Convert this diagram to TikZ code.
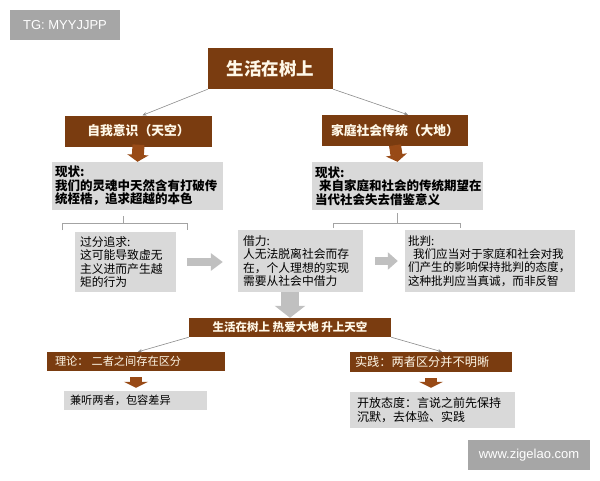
\documentclass[tikz,border=0pt]{standalone}
\usepackage{fontspec}
\setmainfont{Noto Sans CJK SC}
\newfontfamily\latinsans{Liberation Sans}
\usetikzlibrary{arrows.meta}
\definecolor{treebrown}{RGB}{122,60,16}
\definecolor{tipbrown}{RGB}{152,74,22}
\definecolor{boxgray}{RGB}{217,217,217}
\definecolor{arrowgray}{RGB}{192,192,192}
\definecolor{linegray}{RGB}{140,140,140}
\definecolor{markgray}{RGB}{166,166,166}
\definecolor{cream}{RGB}{255,248,232}
\tikzset{
 brownbox/.style={fill=treebrown, text=cream, inner sep=0pt},
 graybox/.style={fill=boxgray, text=black, inner ysep=0pt, align=left},
 tree/.style={draw=linegray, line width=0.6pt, -{Stealth[length=4pt,width=3.5pt]}},
 brownstep/.style={draw=tipbrown, line width=12pt, -{Triangle[length=7pt,width=21pt]}},
 grayflow/.style={draw=arrowgray, line width=8pt, -{Triangle[length=12pt,width=17pt]}},
 bracket/.style={draw=linegray!80, line width=0.6pt},
 watermark/.style={fill=markgray, text=white, font=\latinsans\fontsize{13}{13}\selectfont,
   minimum width=110pt, minimum height=30pt, inner sep=0pt}
}
\begin{document}
\begin{tikzpicture}[x=1pt,y=-1pt]
\useasboundingbox[fill=white] (0,0) rectangle (600,480);
\node[watermark] (tg) at (65,25) {TG: MYYJJPP};
\node[watermark, minimum width=122pt] (site) at (529,455) {www.zigelao.com};

\node[brownbox, minimum width=125pt, minimum height=41pt,
  font=\bfseries\fontsize{17.5}{17.5}\selectfont] (title) at (270.5,68.5) {生活在树上};
\node[brownbox, minimum width=147pt, minimum height=31pt,
  font=\bfseries\fontsize{12.8}{12.8}\selectfont] (sky) at (138.5,131) {自我意识（天空）};
\node[brownbox, minimum width=146pt, minimum height=31pt,
  font=\bfseries\fontsize{12.8}{12.8}\selectfont] (earth) at (395,130.5) {家庭社会传统（大地）};
\draw[tree] (title.south west) -- ([xshift=4pt]sky.north);
\draw[tree] (title.south east) -- ([xshift=13pt]earth.north);

\node[graybox, minimum height=48pt, text width=165pt, inner xsep=3pt,
  font=\bfseries\fontsize{12.5}{13.5}\selectfont] (skynow) at (137.5,186)
  {现状:\\我们的灵魂中天然含有打破传\\统桎梏，追求超越的本色};
\node[graybox, minimum height=48pt, text width=165pt, inner xsep=3pt,
  font=\bfseries\fontsize{12.5}{13.5}\selectfont] (earthnow) at (397.5,186)
  {现状:\\\hspace*{4pt}来自家庭和社会的传统期望在\\当代社会失去借鉴意义};
\draw[brownstep] ([yshift=2pt]sky.south) -- (skynow.north);
\draw[brownstep] ([yshift=1pt]earth.south) -- (earthnow.north);

\draw[bracket] (62,230) -- (62,223) -- (187,223) -- (187,230);
\draw[bracket] (123,216) -- (123,223);
\draw[bracket] (333,228) -- (333,223) -- (460,223) -- (460,228);
\draw[bracket] (397,213) -- (397,223);

\node[graybox, minimum height=60pt, text width=91pt, inner xsep=5pt,
  font=\fontsize{11.8}{13.2}\selectfont] (excess) at (125.5,262)
  {过分追求:\\这可能导致虚无\\主义进而产生越\\矩的行为};
\node[graybox, minimum height=62pt, text width=115pt, inner xsep=5pt,
  font=\fontsize{11.8}{13.2}\selectfont] (borrow) at (300.5,261)
  {借力:\\人无法脱离社会而存\\在，个人理想的实现\\需要从社会中借力};
\node[graybox, minimum height=62pt, text width=164pt, inner xsep=3pt,
  font=\fontsize{11.6}{13.2}\selectfont] (critique) at (490,261)
  {批判:\\\hspace*{5pt}我们应当对于家庭和社会对我\\们产生的影响保持批判的态度，\\这种批判应当真诚，而非反智};
\draw[grayflow, shorten <=11pt, shorten >=15pt] (excess.east) -- (excess.east -| borrow.west);
\draw[grayflow, -{Triangle[length=10pt,width=17pt]}, shorten <=12pt, shorten >=7pt]
  (borrow.east) -- (borrow.east -| critique.west);

\node[brownbox, minimum width=202pt, minimum height=19pt,
  font=\bfseries\fontsize{11.5}{11.5}\selectfont] (unify) at (290,327.5)
  {生活在树上 热爱大地 升上天空};
\draw[draw=arrowgray, line width=18pt, -{Triangle[length=12pt,width=30pt]}]
  (borrow.south -| unify.north) -- (unify.north);

\node[brownbox, minimum height=19pt, text width=170pt, inner xsep=4pt, align=left,
  font=\fontsize{11.2}{11.2}\selectfont] (theory) at (136,361.5) {\hspace*{4pt}理论：\hspace{3pt}二者之间存在区分};
\node[brownbox, minimum height=20pt, text width=152pt, inner xsep=5pt, align=left,
  font=\fontsize{12.2}{12.2}\selectfont] (practice) at (431,362) {实践：两者区分并不明晰};
\draw[tree] (unify.south west) -- ([xshift=2pt]theory.north);
\draw[tree] (unify.south east) -- ([xshift=11pt]practice.north);

\node[graybox, minimum height=19pt, text width=131pt, inner xsep=6pt,
  font=\fontsize{11.2}{11.2}\selectfont] (theoryres) at (135.5,400.5) {兼听两者，包容差异};
\node[graybox, minimum height=36pt, text width=151pt, inner xsep=7pt,
  font=\fontsize{12}{13.5}\selectfont] (practiceres) at (432.5,410)
  {开放态度：言说之前先保持\\沉默，去体验、实践};
\draw[brownstep, -{Triangle[length=6pt,width=24pt]}, shorten <=6pt, shorten >=3pt]
  (theory.south) -- (theory.south |- theoryres.north);
\draw[brownstep, -{Triangle[length=6pt,width=24pt]}, shorten <=6pt, shorten >=4pt]
  (practice.south) -- (practice.south |- practiceres.north);
\end{tikzpicture}
\end{document}
